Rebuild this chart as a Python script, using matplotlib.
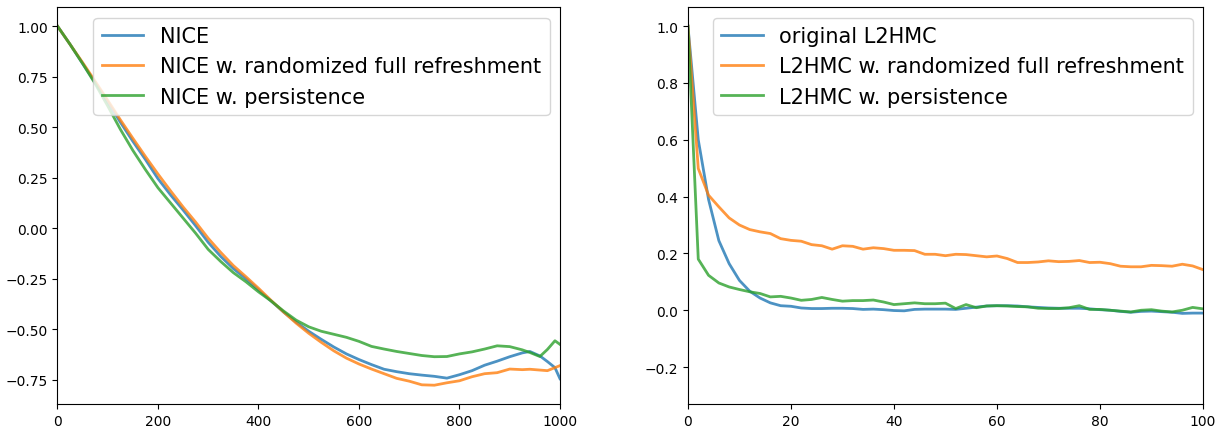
import matplotlib
matplotlib.use("Agg")
import matplotlib.pyplot as plt

# left panel: NICE autocorrelation
nice_lags = [0, 25, 50, 75, 100, 125, 150, 175, 200, 225, 250, 275, 300, 325, 350,
             375, 400, 425, 450, 475, 500, 525, 550, 575, 600, 625, 650, 675, 700,
             725, 750, 775, 800, 825, 850, 875, 900, 925, 940, 960, 975, 990, 1000]
nice = [1.0, 0.91, 0.815, 0.72, 0.625, 0.525, 0.43, 0.34, 0.245, 0.165, 0.09, 0.012,
        -0.07, -0.14, -0.20, -0.25, -0.305, -0.36, -0.415, -0.465, -0.51, -0.55,
        -0.588, -0.622, -0.65, -0.675, -0.698, -0.71, -0.72, -0.727, -0.733, -0.742,
        -0.725, -0.705, -0.678, -0.658, -0.636, -0.617, -0.61, -0.632, -0.66, -0.69,
        -0.745]
nice_refresh = [1.0, 0.91, 0.82, 0.727, 0.633, 0.537, 0.445, 0.355, 0.268, 0.185, 0.105,
                0.03, -0.05, -0.12, -0.185, -0.24, -0.297, -0.357, -0.415, -0.47, -0.52,
                -0.565, -0.607, -0.643, -0.672, -0.697, -0.72, -0.743, -0.757, -0.775,
                -0.777, -0.765, -0.755, -0.735, -0.72, -0.715, -0.697, -0.70, -0.698,
                -0.702, -0.705, -0.69, -0.68]
nice_persist = [1.0, 0.91, 0.815, 0.715, 0.605, 0.49, 0.385, 0.29, 0.20, 0.125, 0.05,
                -0.025, -0.105, -0.165, -0.22, -0.265, -0.315, -0.36, -0.41, -0.455,
                -0.488, -0.51, -0.525, -0.54, -0.56, -0.585, -0.598, -0.61, -0.62, -0.63,
                -0.636, -0.635, -0.622, -0.612, -0.598, -0.582, -0.586, -0.602, -0.615,
                -0.635, -0.60, -0.557, -0.575]

# right panel: L2HMC autocorrelation, every 2 lags
l2hmc_lags = list(range(0, 101, 2))
l2hmc = [1.0, 0.60, 0.39, 0.245, 0.164, 0.105, 0.067, 0.043, 0.026, 0.016, 0.014,
         0.008, 0.006, 0.006, 0.007, 0.007, 0.006, 0.003, 0.004, 0.002, -0.001,
         -0.002, 0.003, 0.004, 0.004, 0.004, 0.003, 0.007, 0.011, 0.015, 0.016,
         0.016, 0.015, 0.012, 0.010, 0.008, 0.007, 0.007, 0.007, 0.005, 0.002,
         0.0, -0.004, -0.007, -0.004, -0.003, -0.005, -0.007, -0.011, -0.010, -0.010]
l2hmc_refresh = [1.0, 0.499, 0.405, 0.364, 0.325, 0.30, 0.284, 0.276, 0.27, 0.252,
                 0.246, 0.243, 0.231, 0.227, 0.215, 0.227, 0.225, 0.215, 0.22, 0.217,
                 0.211, 0.211, 0.21, 0.197, 0.197, 0.192, 0.197, 0.196, 0.192, 0.188,
                 0.191, 0.182, 0.168, 0.168, 0.17, 0.174, 0.171, 0.172, 0.175, 0.168,
                 0.169, 0.164, 0.155, 0.153, 0.153, 0.158, 0.157, 0.155, 0.162, 0.156,
                 0.143]
l2hmc_persist = [1.0, 0.18, 0.123, 0.096, 0.082, 0.073, 0.065, 0.059, 0.047, 0.049,
                 0.043, 0.035, 0.038, 0.045, 0.038, 0.032, 0.034, 0.034, 0.036, 0.029,
                 0.02, 0.023, 0.026, 0.023, 0.023, 0.025, 0.006, 0.02, 0.009, 0.015,
                 0.016, 0.015, 0.013, 0.012, 0.007, 0.006, 0.006, 0.009, 0.016, 0.003,
                 0.003, 0.0, -0.003, -0.006, 0.0, 0.002, -0.003, -0.006, 0.0, 0.010,
                 0.005]


def main() -> None:
    fig = plt.figure(figsize=(12.2, 4.27), dpi=100)
    ax1 = fig.add_axes([0.0471, 0.0515, 0.4119, 0.9295])
    ax2 = fig.add_axes([0.5639, 0.0515, 0.4221, 0.9295])

    ax1.plot(nice_lags, nice, lw=2, alpha=0.8, label="NICE")
    ax1.plot(nice_lags, nice_refresh, lw=2, alpha=0.8,
             label="NICE w. randomized full refreshment")
    ax1.plot(nice_lags, nice_persist, lw=2, alpha=0.8, label="NICE w. persistence")
    ax1.set_xlim(0, 1000)
    ax1.set_ylim(-0.87, 1.094)
    ax1.legend(loc="upper right", fontsize=15)

    ax2.plot(l2hmc_lags, l2hmc, lw=2, alpha=0.8, label="original L2HMC")
    ax2.plot(l2hmc_lags, l2hmc_refresh, lw=2, alpha=0.8,
             label="L2HMC w. randomized full refreshment")
    ax2.plot(l2hmc_lags, l2hmc_persist, lw=2, alpha=0.8, label="L2HMC w. persistence")
    ax2.set_xlim(0, 100)
    ax2.set_ylim(-0.33, 1.067)
    ax2.legend(loc="upper right", fontsize=15)

    fig.savefig("out.png", dpi=100)


if __name__ == "__main__":
    main()
